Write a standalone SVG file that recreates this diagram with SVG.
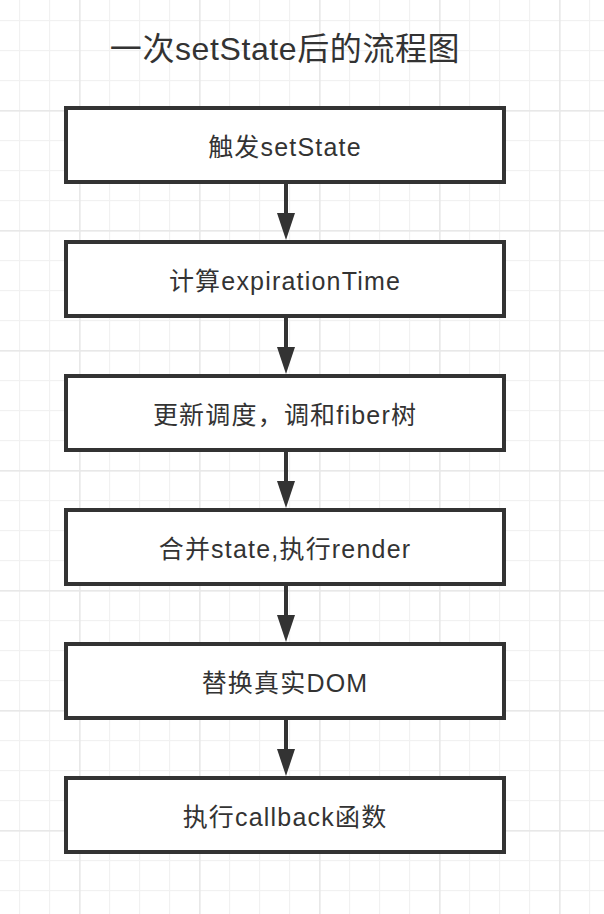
<svg xmlns="http://www.w3.org/2000/svg" width="604" height="914" viewBox="0 0 604 914">
<style>
.box{fill:#fff;stroke:#333;stroke-width:4;}
.lbl{font-family:"Liberation Sans","Noto Sans CJK SC",sans-serif;font-size:25px;letter-spacing:1.2px;fill:#333;text-anchor:middle;dominant-baseline:central;}
.title{font-family:"Liberation Sans","Noto Sans CJK SC",sans-serif;font-size:32px;letter-spacing:0.6px;fill:#333;text-anchor:middle;}
.edge{stroke:#333;stroke-width:4;fill:none;}
.head{fill:#333;}
</style>
<defs>
<pattern id="gThin" patternUnits="userSpaceOnUse" x="19" y="20" width="30" height="30">
<rect x="0" y="0" width="1.2" height="30" fill="#f1f1f1"/>
<rect x="0" y="0" width="30" height="1.2" fill="#f1f1f1"/>
</pattern>
<pattern id="gThick" patternUnits="userSpaceOnUse" x="79" y="110" width="120" height="120">
<rect x="0" y="0" width="1.6" height="120" fill="#e8e8e8"/>
<rect x="0" y="0" width="120" height="1.6" fill="#e8e8e8"/>
</pattern>
</defs>
<rect width="604" height="914" fill="#fff"/>
<rect width="604" height="914" fill="url(#gThin)"/>
<rect width="604" height="914" fill="url(#gThick)"/>
<text class="title" x="285" y="60">一次setState后的流程图</text>
<g id="connectors">
<line class="edge" x1="286" y1="182" x2="286" y2="215"/><polygon class="head" points="277,213 295,213 286,240"/>
<line class="edge" x1="286" y1="316" x2="286" y2="349"/><polygon class="head" points="277,347 295,347 286,374"/>
<line class="edge" x1="286" y1="450" x2="286" y2="483"/><polygon class="head" points="277,481 295,481 286,508"/>
<line class="edge" x1="286" y1="584" x2="286" y2="617"/><polygon class="head" points="277,615 295,615 286,642"/>
<line class="edge" x1="286" y1="718" x2="286" y2="751"/><polygon class="head" points="277,749 295,749 286,776"/>
</g>
<g id="n1"><rect class="box" x="66" y="108" width="438" height="74"/><text class="lbl" x="285" y="147">触发setState</text></g>
<g id="n2"><rect class="box" x="66" y="242" width="438" height="74"/><text class="lbl" x="285" y="281">计算expirationTime</text></g>
<g id="n3"><rect class="box" x="66" y="376" width="438" height="74"/><text class="lbl" x="285" y="415">更新调度，调和fiber树</text></g>
<g id="n4"><rect class="box" x="66" y="510" width="438" height="74"/><text class="lbl" x="285" y="549">合并state,执行render</text></g>
<g id="n5"><rect class="box" x="66" y="644" width="438" height="74"/><text class="lbl" x="285" y="683">替换真实DOM</text></g>
<g id="n6"><rect class="box" x="66" y="778" width="438" height="74"/><text class="lbl" x="285" y="817">执行callback函数</text></g>
</svg>
